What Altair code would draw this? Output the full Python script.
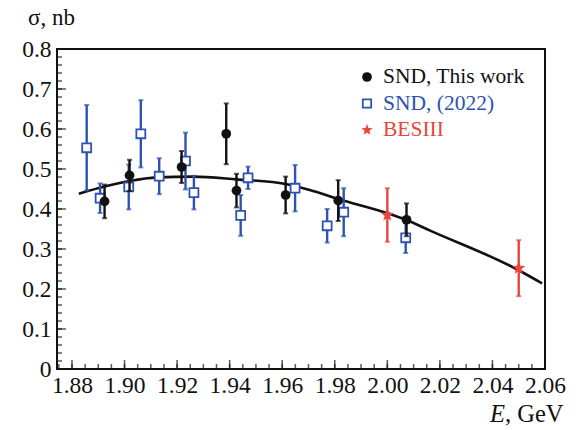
import math
import altair as alt
import pandas as pd

# SND, this work
snd_e = [1.8924, 1.9019, 1.9217, 1.9387, 1.9426, 1.9613, 1.9813, 2.0073]
snd_sigma = [0.419, 0.484, 0.505, 0.588, 0.446, 0.435, 0.421, 0.373]
snd_err = [0.042, 0.039, 0.040, 0.076, 0.042, 0.046, 0.051, 0.041]

# SND (2022)
snd22_e = [1.8856, 1.8907, 1.9016, 1.9062, 1.9132, 1.9232, 1.9264,
           1.9442, 1.9470, 1.9649, 1.9771, 1.9834, 2.0070]
snd22_sigma = [0.553, 0.427, 0.455, 0.588, 0.482, 0.520, 0.441,
               0.384, 0.478, 0.452, 0.358, 0.392, 0.328]
snd22_err = [0.107, 0.037, 0.056, 0.084, 0.045, 0.071, 0.042,
             0.051, 0.028, 0.058, 0.042, 0.060, 0.038]

# BESIII
bes_e = [2.000, 2.050]
bes_sigma = [0.385, 0.252]
bes_err = [0.067, 0.070]

# fitted curve
fit_e = [1.8826, 1.8924, 1.9019, 1.9124, 1.9260, 1.9426, 1.9613, 1.9705,
         1.9813, 2.0003, 2.0073, 2.0163, 2.0498, 2.0589]
fit_sigma = [0.438, 0.456, 0.470, 0.479, 0.481, 0.474, 0.4625, 0.4475,
             0.425, 0.389, 0.3725, 0.346, 0.2475, 0.214]

# axis ticks and labels
x_major = [1.88, 1.90, 1.92, 1.94, 1.96, 1.98, 2.00, 2.02, 2.04, 2.06]
x_minor = [round(1.875 + 0.005 * i, 3) for i in range(38)]
y_major = [0, 0.1, 0.2, 0.3, 0.4, 0.5, 0.6, 0.7, 0.8]
y_minor = [round(0.02 * i, 2) for i in range(41)]

legend_labels = ["SND, This work", "SND, (2022)", "BESIII"]

BLACK = "#111111"
BLUE = "#2d52b2"
RED = "#e8453c"
FONT = "Liberation Serif"

W, H = 488, 320


def star_path(inner=0.42):
    """Five-pointed star glyph in unit symbol coordinates."""
    pts = []
    for i in range(10):
        r = 1.0 if i % 2 == 0 else inner
        a = -math.pi / 2 + i * math.pi / 5
        pts.append(f"{r * math.cos(a):.3f},{r * math.sin(a):.3f}")
    return "M" + "L".join(pts) + "Z"


STAR = star_path()

xscale = alt.Scale(domain=[1.8743, 2.06], nice=False, zero=False)
yscale = alt.Scale(domain=[0, 0.8], nice=False, zero=False)

xaxis = alt.Axis(orient="bottom", values=x_major, format=".2f", ticks=False, domain=False,
                 grid=False, labelFont=FONT, labelFontSize=23.5, labelColor=BLACK,
                 labelPadding=4, labelFlush=False, labelOverlap=False, labelBound=False,
                 title=None)
yaxis = alt.Axis(orient="left", values=y_major, format="~g", ticks=False, domain=False,
                 grid=False, labelFont=FONT, labelFontSize=23.5, labelColor=BLACK,
                 labelPadding=6, labelOverlap=False, labelBound=False, title=None)

X = alt.X("E:Q", scale=xscale, axis=xaxis)
Y = alt.Y("sigma:Q", scale=yscale, axis=yaxis)


def frame(e, s, err=None):
    d = pd.DataFrame({"E": e, "sigma": s})
    if err is not None:
        d["lo"] = [a - b for a, b in zip(s, err)]
        d["hi"] = [a + b for a, b in zip(s, err)]
    return d


def error_layers(d, color):
    base = alt.Chart(d)
    ylo = alt.Y("lo:Q", scale=yscale, axis=yaxis)
    yhi = alt.Y("hi:Q", scale=yscale, axis=yaxis)
    bars = base.mark_rule(color=color, strokeWidth=2.4).encode(x=X, y=ylo, y2="hi:Q")
    cap_lo = base.mark_tick(color=color, orient="horizontal", size=5, thickness=2).encode(x=X, y=ylo)
    cap_hi = base.mark_tick(color=color, orient="horizontal", size=5, thickness=2).encode(x=X, y=yhi)
    return [bars, cap_lo, cap_hi]


snd = frame(snd_e, snd_sigma, snd_err)
snd22 = frame(snd22_e, snd22_sigma, snd22_err)
bes = frame(bes_e, bes_sigma, bes_err)
fit = frame(fit_e, fit_sigma)

fit_line = alt.Chart(fit).mark_line(color=BLACK, strokeWidth=2.6, interpolate="monotone").encode(x=X, y=Y)

snd22_pts = alt.Chart(snd22).mark_point(shape="square", filled=True, fill="white", stroke=BLUE,
                                        strokeWidth=1.8, size=80, opacity=1).encode(x=X, y=Y)
snd_pts = alt.Chart(snd).mark_point(shape="circle", filled=True, color=BLACK, size=95,
                                    opacity=1).encode(x=X, y=Y)
bes_pts = alt.Chart(bes).mark_point(shape=STAR, filled=True, color=RED, size=190,
                                    opacity=1).encode(x=X, y=Y)

# axis ticks drawn on the inner side of the frame
xt_major = alt.Chart(pd.DataFrame({"E": x_major})).mark_tick(
    orient="vertical", size=9, thickness=1.5, color=BLACK).encode(x=X, y=alt.value(H - 4.5))
xt_minor = alt.Chart(pd.DataFrame({"E": x_minor})).mark_tick(
    orient="vertical", size=5, thickness=1.5, color=BLACK).encode(x=X, y=alt.value(H - 2.5))
yt_major = alt.Chart(pd.DataFrame({"sigma": y_major})).mark_tick(
    orient="horizontal", size=9, thickness=1.5, color=BLACK).encode(y=Y, x=alt.value(4.5))
yt_minor = alt.Chart(pd.DataFrame({"sigma": y_minor})).mark_tick(
    orient="horizontal", size=5, thickness=1.5, color=BLACK).encode(y=Y, x=alt.value(2.5))

one = pd.DataFrame({"k": [0]})


def label(text, x, y, **kw):
    style = dict(font=FONT, fontSize=21.5, color=BLACK, align="left", baseline="middle")
    style.update(kw)
    return alt.Chart(one).mark_text(text=text, **style).encode(x=alt.value(x), y=alt.value(y))


# legend
LX, LY, DY = 310, 28, 26.5
leg = [
    alt.Chart(one).mark_point(shape="circle", filled=True, color=BLACK, size=95, opacity=1).encode(
        x=alt.value(LX), y=alt.value(LY)),
    alt.Chart(one).mark_point(shape="square", filled=True, fill="white", stroke=BLUE,
                              strokeWidth=1.8, size=70, opacity=1).encode(
        x=alt.value(LX), y=alt.value(LY + DY)),
    alt.Chart(one).mark_point(shape=STAR, filled=True, color=RED, size=140, opacity=1).encode(
        x=alt.value(LX), y=alt.value(LY + 2 * DY)),
    label(legend_labels[0], LX + 16, LY),
    label(legend_labels[1], LX + 16, LY + DY, color=BLUE),
    label(legend_labels[2], LX + 16, LY + 2 * DY, color=RED),
]

# axis titles
titles = [
    label("σ, nb", -29, -24, baseline="alphabetic", fontSize=23),
    label("E", 433, H + 53, baseline="alphabetic", fontSize=24.5, fontStyle="italic"),
    label(", GeV", 448, H + 53, baseline="alphabetic", fontSize=24.5),
]

layers = ([fit_line]
          + error_layers(snd22, BLUE) + [snd22_pts]
          + error_layers(snd, BLACK) + [snd_pts]
          + error_layers(bes, RED) + [bes_pts]
          + [xt_major, xt_minor, yt_major, yt_minor]
          + leg + titles)

chart = alt.layer(*layers).properties(
    width=W, height=H,
    autosize=alt.AutoSizeParams(type="none"),
    padding={"left": 57, "top": 49, "right": 31, "bottom": 61},
    background="white",
).configure_view(stroke=BLACK, strokeWidth=2)

chart.save("out.html", embed_options={"renderer": "svg", "actions": False})
